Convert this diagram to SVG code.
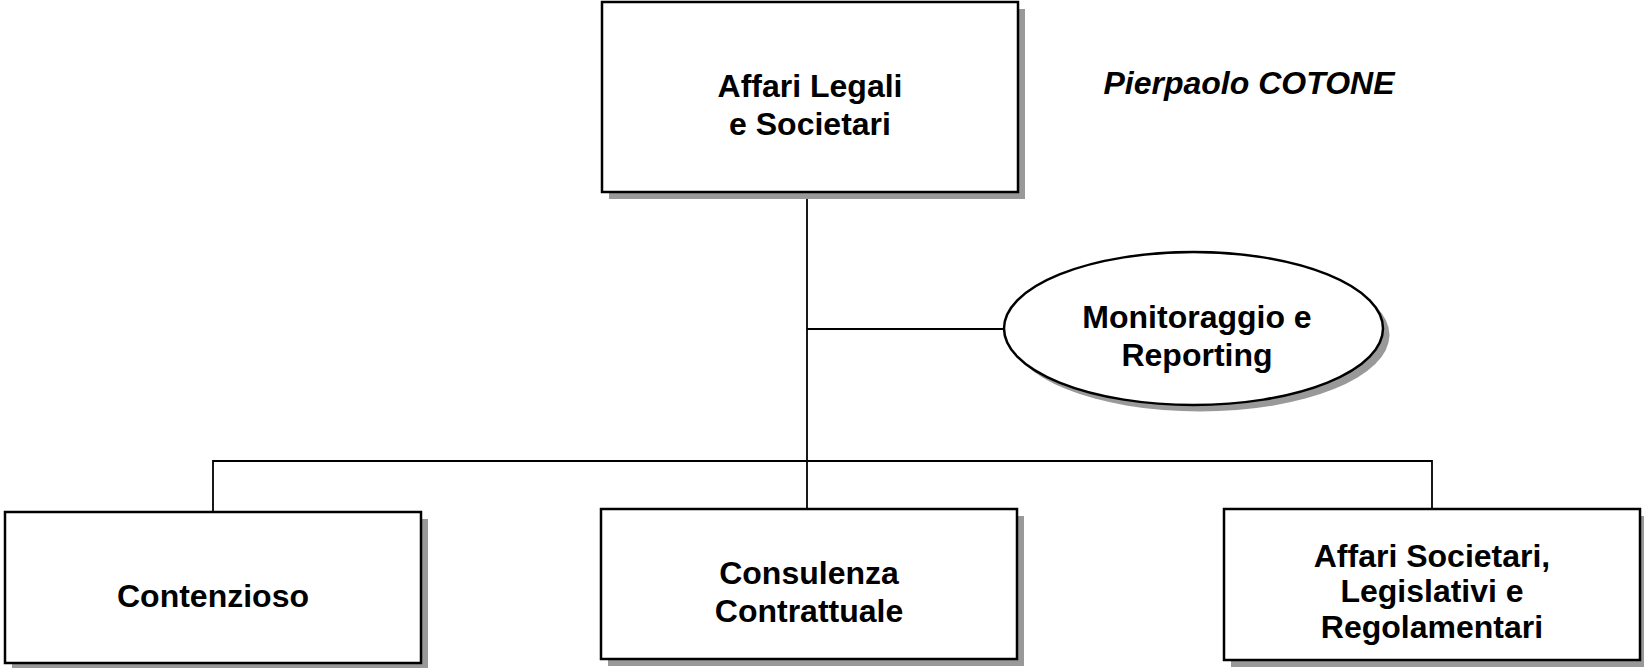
<svg xmlns="http://www.w3.org/2000/svg" width="1644" height="668" viewBox="0 0 1644 668">
<style>
.box{fill:#fff;stroke:#000;stroke-width:2.5}
.shadow{fill:#999}
.line{fill:none;stroke:#000;stroke-width:1.8}
.t{font-family:"Liberation Sans",Arial,sans-serif;font-weight:bold;font-size:32px;text-anchor:middle;fill:#000}
.name{font-family:"Liberation Sans",Arial,sans-serif;font-weight:bold;font-style:italic;font-size:32px;text-anchor:middle;fill:#000}
</style>
<rect width="1644" height="668" fill="#fff"/>
<g id="connectors">
<line class="line" x1="807" y1="192" x2="807" y2="509"/>
<line class="line" x1="807" y1="329" x2="1004" y2="329"/>
<polyline class="line" points="213,512 213,461 1432,461 1432,509"/>
</g>
<g id="node-affari-legali">
<rect class="shadow" x="609" y="9" width="416" height="190"/>
<rect class="box" x="602" y="2" width="416" height="190"/>
<text class="t" x="810" y="97">Affari Legali</text>
<text class="t" x="810" y="135">e Societari</text>
</g>
<g id="label-name">
<text class="name" x="1249" y="94">Pierpaolo COTONE</text>
</g>
<g id="node-monitoraggio">
<ellipse class="shadow" cx="1200" cy="335" rx="189.5" ry="76.5"/>
<ellipse class="box" cx="1193.5" cy="328.5" rx="189.5" ry="76.5"/>
<text class="t" x="1197" y="328">Monitoraggio e</text>
<text class="t" x="1197" y="366">Reporting</text>
</g>
<g id="node-contenzioso">
<rect class="shadow" x="12" y="519" width="416" height="151"/>
<rect class="box" x="5" y="512" width="416" height="151"/>
<text class="t" x="213" y="607">Contenzioso</text>
</g>
<g id="node-consulenza">
<rect class="shadow" x="608" y="516" width="416" height="150"/>
<rect class="box" x="601" y="509" width="416" height="150"/>
<text class="t" x="809" y="584">Consulenza</text>
<text class="t" x="809" y="622">Contrattuale</text>
</g>
<g id="node-affari-societari">
<rect class="shadow" x="1231" y="516" width="416" height="151"/>
<rect class="box" x="1224" y="509" width="416" height="151"/>
<text class="t" x="1432" y="567">Affari Societari,</text>
<text class="t" x="1432" y="602">Legislativi e</text>
<text class="t" x="1432" y="638">Regolamentari</text>
</g>
</svg>
